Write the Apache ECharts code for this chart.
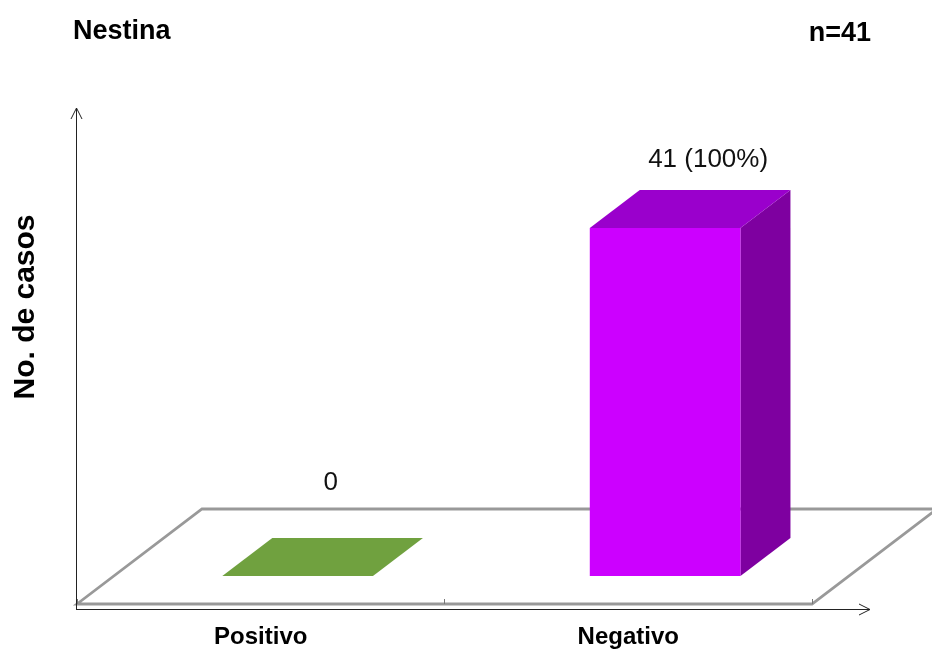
<!DOCTYPE html>
<html>
<head>
<meta charset="utf-8">
<title>Nestina</title>
<script src="https://cdn.jsdelivr.net/npm/echarts@6/dist/echarts.min.js"></script>
<style>
  html, body { margin: 0; padding: 0; background: #fff; }
  #chart { width: 932px; height: 650px; }
</style>
</head>
<body>
<div id="chart"></div>
<script>
// Nestina staining result, number of cases
const categories = ['Positivo', 'Negativo'];
const casos = [0, 41];
const totalCasos = 41;

// Face colours for each bar: [front, top, side]
const barColors = [
  ['#70A13F', '#70A13F', '#5E8A33'],
  ['#CC00FF', '#9A00CC', '#7E00A0']
];

const FONT = '"Liberation Sans", Arial, sans-serif';

// Plot frame (floor front edge, depth of the 3D floor)
const GRID_LEFT = 77, GRID_RIGHT_X = 812, FLOOR_Y = 604;
const DEPTH_X = 125, DEPTH_Y = -95;
const Y_MAX = 58;

const chart = echarts.init(document.getElementById('chart'), null, { renderer: 'canvas' });

function caseLabel(v) {
  return v === 0 ? '0' : v + ' (' + Math.round(v / totalCasos * 100) + '%)';
}

function renderBar(params, api) {
  const cat = api.value(0);
  const v = api.value(1);
  const idx = params.dataIndex;
  const base = api.coord([cat, 0]);
  const top = api.coord([cat, v]);
  const catW = api.size([1, 0])[0];
  const w = catW * 0.41;
  // the bar sits in the middle of the floor depth
  const fx = DEPTH_X * 0.295, fy = DEPTH_Y * 0.295;
  const bx = DEPTH_X * 0.4, by = DEPTH_Y * 0.4;
  const x0 = base[0] - w / 2 + fx, x1 = x0 + w;
  const yb = base[1] + fy, yt = top[1] + fy;
  const c = barColors[idx];
  const children = [];

  if (v > 0) {
    children.push({
      type: 'polygon',
      shape: { points: [[x1, yt], [x1 + bx, yt + by], [x1 + bx, yb + by], [x1, yb]] },
      style: { fill: c[2] }
    });
    children.push({
      type: 'rect',
      shape: { x: x0, y: yt, width: w, height: yb - yt },
      style: { fill: c[0] }
    });
  }
  children.push({
    type: 'polygon',
    shape: { points: [[x0, yt], [x1, yt], [x1 + bx, yt + by], [x0 + bx, yt + by]] },
    style: { fill: c[1] }
  });

  // value label above the bar, never lower than just above the floor's back edge
  const floorBackY = FLOOR_Y + DEPTH_Y;
  const labelY = Math.min(yt + by - 30, floorBackY - 26);
  const labelX = v > 0 ? (x0 + x1 + bx) / 2 + 18 : (x0 + x1 + bx) / 2 + 8;
  children.push({
    type: 'text',
    style: {
      text: caseLabel(v),
      x: labelX,
      y: labelY,
      align: 'center',
      verticalAlign: 'middle',
      fontSize: 26,
      fontFamily: FONT,
      fill: '#111'
    }
  });
  return { type: 'group', children: children };
}

const floorPts = [
  [GRID_LEFT, FLOOR_Y],
  [GRID_RIGHT_X, FLOOR_Y],
  [GRID_RIGHT_X + DEPTH_X, FLOOR_Y + DEPTH_Y],
  [GRID_LEFT + DEPTH_X, FLOOR_Y + DEPTH_Y]
];

const option = {
  backgroundColor: '#fff',
  animation: false,
  grid: {
    left: GRID_LEFT,
    right: 932 - GRID_RIGHT_X,
    bottom: 650 - FLOOR_Y,
    top: FLOOR_Y - Y_MAX * 348 / 41
  },
  xAxis: {
    type: 'category',
    data: categories,
    offset: 5,
    axisLine: { show: false },
    axisTick: { show: true, inside: true, length: 5, lineStyle: { color: '#777', width: 1 } },
    axisLabel: {
      margin: 28,
      verticalAlign: 'middle',
      fontSize: 24,
      fontWeight: 'bold',
      fontFamily: FONT,
      color: '#000'
    },
    splitLine: { show: false }
  },
  yAxis: {
    type: 'value',
    min: 0,
    max: Y_MAX,
    show: false
  },
  graphic: [
    {
      type: 'polygon',
      z: -10,
      shape: { points: floorPts },
      style: { fill: '#fff', stroke: '#999', lineWidth: 2.8, lineJoin: 'miter' }
    },
    // y axis with open arrow head
    { type: 'polyline', shape: { points: [[76.5, 610], [76.5, 108]] }, style: { stroke: '#222', lineWidth: 1, fill: null } },
    { type: 'polyline', shape: { points: [[71, 119], [76.5, 108], [82, 119]] }, style: { stroke: '#222', lineWidth: 1, fill: null } },
    // x axis with open arrow head
    { type: 'polyline', shape: { points: [[76, 609.5], [870, 609.5]] }, style: { stroke: '#222', lineWidth: 1, fill: null } },
    { type: 'polyline', shape: { points: [[859, 604], [870, 609.5], [859, 615]] }, style: { stroke: '#222', lineWidth: 1, fill: null } },
    {
      type: 'text',
      style: { text: 'Nestina', x: 73, y: 32, align: 'left', verticalAlign: 'middle',
        fontSize: 27, fontWeight: 'bold', fontFamily: FONT, fill: '#000' }
    },
    {
      type: 'text',
      style: { text: 'n=41', x: 871, y: 34, align: 'right', verticalAlign: 'middle',
        fontSize: 27, fontWeight: 'bold', fontFamily: FONT, fill: '#000' }
    },
    {
      type: 'text',
      x: 25.5, y: 307, rotation: Math.PI / 2,
      style: { text: 'No. de casos', x: 0, y: 0, align: 'center', verticalAlign: 'middle',
        fontSize: 30, fontWeight: 'bold', fontFamily: FONT, fill: '#000' }
    }
  ],
  series: [{
    type: 'custom',
    renderItem: renderBar,
    data: categories.map((c, i) => [i, casos[i]]),
    encode: { x: 0, y: 1 },
    clip: false,
    z: 5
  }]
};

chart.setOption(option);
</script>
</body>
</html>
